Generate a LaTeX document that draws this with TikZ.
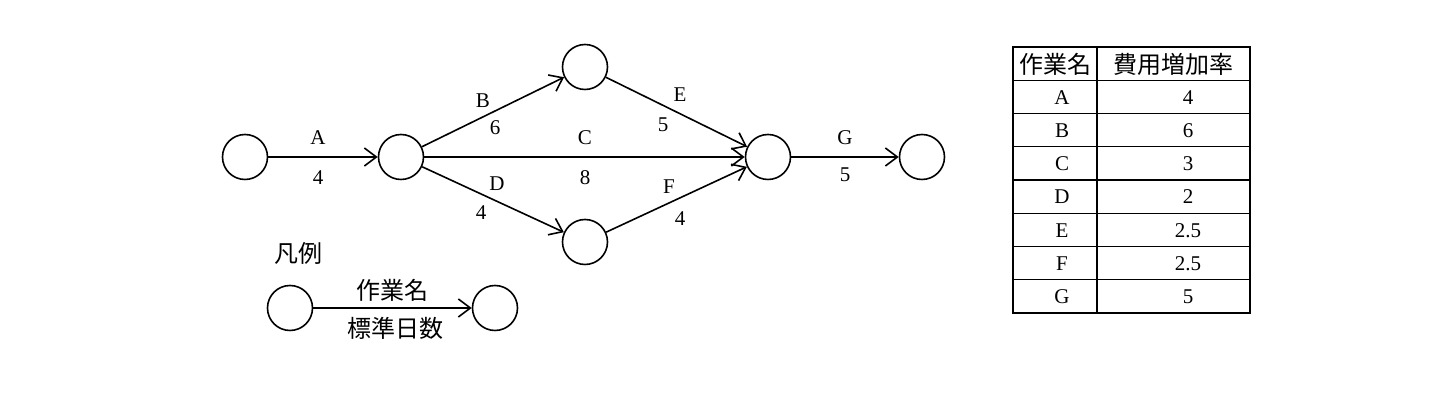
\documentclass[tikz,border=0pt]{standalone}
\usepackage{fontspec}
\setmainfont{Liberation Serif}
\newfontfamily\jp{Noto Sans CJK JP}
\usetikzlibrary{arrows.meta}
\begin{document}
\begin{tikzpicture}[x=0.5pt,y=-0.5pt,
  ev/.style={draw,circle,line width=0.8pt,minimum size=22.5pt,inner sep=0pt},
  act/.style={draw,line width=0.8pt,-{Straight Barb[length=6pt,width=9pt,line width=0.8pt]}},
  lb/.style={font=\fontsize{10.5}{12}\selectfont,inner sep=0pt},
  jl/.style={font=\jp\fontsize{12}{14}\selectfont,inner sep=0pt},
  cell/.style={draw,line width=0.7pt}]
\useasboundingbox (0,0) rectangle (1432,400);
\node[ev] (n1) at (245,157) {};
\node[ev] (n2) at (401,157) {};
\node[ev] (n3) at (585,67) {};
\node[ev] (n4) at (585,242) {};
\node[ev] (n5) at (768,157) {};
\node[ev] (n6) at (922,157) {};
\draw[act] (n1) -- (n2);
\draw[act] (n2) -- (n3);
\draw[act] (n2) -- (n5);
\draw[act] (n2) -- (n4);
\draw[act] (n3) -- (n5);
\draw[act] (n4) -- (n5);
\draw[act] (n5) -- (n6);
\node[lb] (la) at (318,138) {A}; \node[lb] (da) at (318,178) {4};
\node[lb] (lbb) at (483,101) {B}; \node[lb] (db) at (495,128) {6};
\node[lb] (lc) at (585,138) {C}; \node[lb] (dc) at (585,178) {8};
\node[lb] (ld) at (497,184) {D}; \node[lb] (dd) at (481,213) {4};
\node[lb] (le) at (680,95) {E}; \node[lb] (de) at (663,125) {5};
\node[lb] (lf) at (669,187) {F}; \node[lb] (df) at (680,219) {4};
\node[lb] (lg) at (845,138) {G}; \node[lb] (dg) at (845,175) {5};
% legend
\node[jl] (hanrei) at (298,253) {凡例};
\node[ev] (l1) at (290,308) {};
\node[ev] (l2) at (495,308) {};
\draw[act] (l1) -- (l2);
\node[jl] (lname) at (392,290) {作業名};
\node[jl] (ldays) at (395,328) {標準日数};
% table
\foreach \i in {0,...,7}{
  \draw[cell] (1013,{47+\i*33.25}) rectangle (1097,{47+(\i+1)*33.25});
  \draw[cell] (1097,{47+\i*33.25}) rectangle (1250,{47+(\i+1)*33.25});
}
\node[jl] (h1) at (1055,64) {作業名};
\node[jl] (h2) at (1173,64) {費用増加率};
\foreach \n/\v [count=\i] in {A/4,B/6,C/3,D/2,E/2.5,F/2.5,G/5}{
  \node[lb] (r\i a) at (1062,{64+\i*33.25}) {\n};
  \node[lb] (r\i b) at (1188,{64+\i*33.25}) {\v};
}
\end{tikzpicture}
\end{document}
